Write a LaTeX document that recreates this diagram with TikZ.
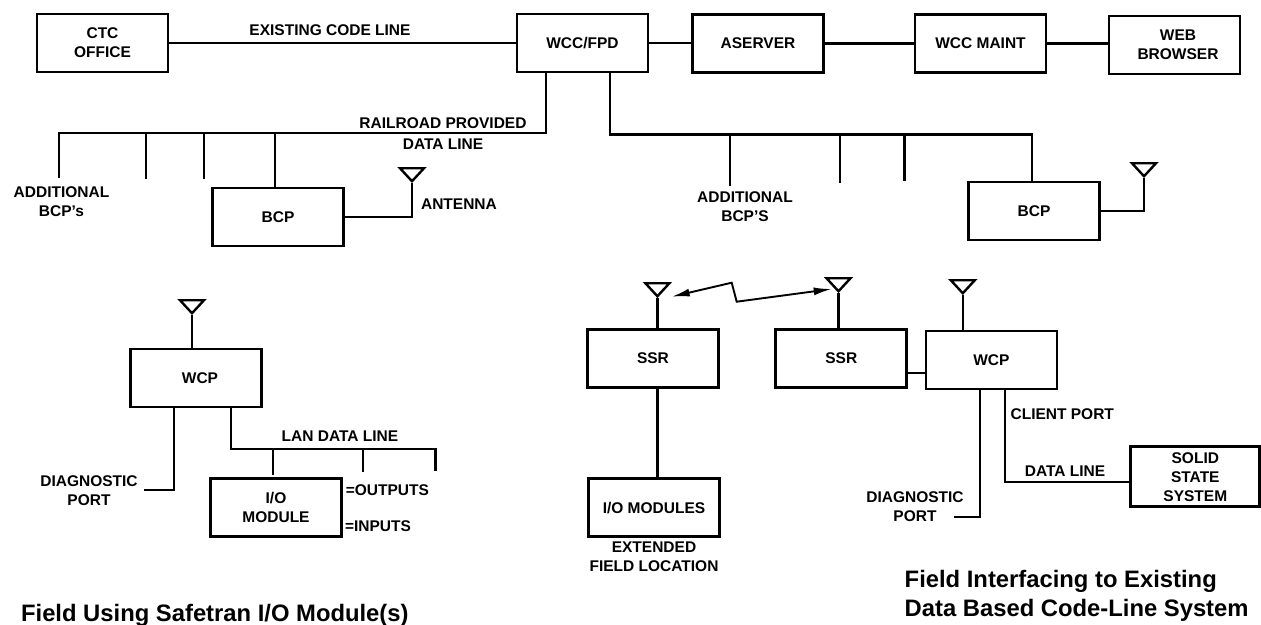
\documentclass[tikz,border=0pt]{standalone}
\usepackage{fontspec}
\setmainfont{Liberation Sans}
\usetikzlibrary{arrows.meta,shapes.geometric}
\tikzset{
  fx/.style={x=1pt, y=-1pt, line width=2.2pt, font=\fontsize{15.5}{19}\selectfont\bfseries},
  c box/.style={draw, line width=2.7pt, align=center, minimum width=131pt, minimum height=58pt, inner sep=0pt},
  c lab/.style={align=center, inner sep=0pt},
  c left/.style={c lab, anchor=west},
  c title/.style={inner sep=0pt, anchor=west, font=\fontsize{23.8}{28}\selectfont\bfseries},
  c ant/.style={draw, line width=2.4pt, isosceles triangle, isosceles triangle apex angle=86, isosceles triangle stretches, shape border rotate=-90, minimum width=24pt, minimum height=13pt, inner sep=0pt, anchor=apex},
  c link/.style={{Latex[length=18pt,width=8pt]}-{Latex[length=18pt,width=8pt]}, line width=1.9pt},
}
\begin{document}
\begin{tikzpicture}[fx]
\useasboundingbox (0,0) rectangle (1261,624);
% top row
\node[c box] (ctc) at (102.5,43) {CTC\\OFFICE};
\node[c box] (wcc) at (582.5,43) {WCC/FPD};
\node[c box] (aserver) at (758,43.5) {ASERVER};
\node[c box] (maint) at (980.5,43.5) {WCC MAINT};
\node[c box] (web) at (1174.5,45) {\hspace*{7pt}WEB\\\hspace*{7pt}BROWSER};
\node[c lab] (lcode) at (330,30) {EXISTING CODE LINE};
\draw (ctc.east) -- (ctc.east-|wcc.west); \draw (wcc.east) -- (wcc.east-|aserver.west);
\draw (aserver.west-|aserver.east) -- (aserver.west-|maint.west); \draw (maint.east) -- (maint.east-|web.west);
% railroad line, left
\node[c box] (bcpl) at (278,217) {BCP};
\node[c ant] (al) at (412,183) {};
\coordinate (rl) at (545.6,133);
\coordinate (l0) at (58.6,178); \coordinate (l1) at (146,179); \coordinate (l2) at (204,179); \coordinate (l3) at (275,133);
\draw (rl|-wcc.south) -- (rl) -- (rl-|l0) -- (l0);
\draw (l1|-rl) -- (l1); \draw (l2|-rl) -- (l2); \draw (l3) -- (l3|-bcpl.north);
\draw (bcpl.east) -- (bcpl.east-|al.apex) -- (al.apex);
\node[c lab] (lrail) at (443,133.5) {RAILROAD PROVIDED\\[1.5pt]DATA LINE};
\node[c lab] (laddl) at (61.5,201.5) {ADDITIONAL\\BCP's};
\node[c left] (lant) at (420,204) {ANTENNA};
% railroad line, right
\node[c box] (bcpr) at (1034,211) {BCP};
\node[c ant] (ar) at (1144,178) {};
\coordinate (rr) at (610,134.5);
\coordinate (r1) at (730,186); \coordinate (r2) at (840,183); \coordinate (r3) at (904.5,181); \coordinate (r4) at (1032,134.5);
\draw (rr|-wcc.south) -- (rr) -- (r4) -- (r4|-bcpr.north);
\draw (r1|-rr) -- (r1); \draw (r2|-rr) -- (r2); \draw (r3|-rr) -- (r3);
\draw (bcpr.east) -- (bcpr.east-|ar.apex) -- (ar.apex);
\node[c lab] (laddr) at (745,206.5) {ADDITIONAL\\BCP'S};
% safetran field
\node[c box] (wcpa) at (196,378) {\hspace*{8pt}WCP};
\node[c box] (iom) at (276,507.5) {I/O\\MODULE};
\node[c ant] (aa) at (192,315) {};
\coordinate (da) at (174,490); \coordinate (dae) at (144,490);
\coordinate (la) at (230.6,449); \coordinate (la1) at (363,472); \coordinate (la2) at (435.5,471); \coordinate (la0) at (273,475);
\draw (aa.apex) -- (aa.apex|-wcpa.north);
\draw (da|-wcpa.south) -- (da) -- (dae);
\draw (la|-wcpa.south) -- (la) -- (la-|la2) -- (la2);
\draw (la0|-la) -- (la0); \draw (la1|-la) -- (la1);
\node[c lab] (ldiaga) at (89,491) {DIAGNOSTIC\\PORT};
\node[c lab] (llan) at (340,435.7) {LAN DATA LINE};
\node[c left] (lout) at (344.7,489.7) {=OUTPUTS};
\node[c left] (lin) at (344,525.7) {=INPUTS};
\node[c title] (ta) at (20,615) {Field Using Safetran I/O Module(s)};
% extended field location
\node[c box] (ssra) at (653,358.3) {SSR};
\node[c box] (iomb) at (654,507.7) {I/O MODULES};
\node[c ant] (ab) at (657.4,298) {};
\draw (ab.apex) -- (ab.apex|-ssra.north);
\draw (ab.apex|-ssra.south) -- (ab.apex|-iomb.north);
\node[c lab] (lext) at (654,557) {EXTENDED\\FIELD LOCATION};
% data line field
\node[c box] (ssrb) at (841.3,358.3) {SSR};
\node[c box] (wcpb) at (991.4,360) {WCP};
\node[c ant] (ac) at (838.5,293) {};
\node[c ant] (ad) at (962.8,295) {};
\draw (ac.apex) -- (ac.apex|-ssrb.north);
\draw (ad.apex) -- (ad.apex|-wcpb.north);
\coordinate (wl) at (925,372.7);
\draw (wl-|ssrb.east) -- (wl-|wcpb.west);
\coordinate (z1) at (731.7,282.7); \coordinate (z2) at (736.7,301.7);
\coordinate (ze1) at (671.7,296.7); \coordinate (ze2) at (831.7,289);
\draw[c link] (ze1) -- (z1) -- (z2) -- (ze2);
\node[c box, minimum width=129pt, minimum height=60pt] (sss) at (1195.3,476.7) {SOLID\\STATE\\SYSTEM};
\coordinate (db) at (980,517); \coordinate (dbe) at (954,517); \coordinate (cp) at (1005,481.7);
\draw (db|-wcpb.south) -- (db) -- (dbe);
\draw (cp|-wcpb.south) -- (cp) -- (cp-|sss.west);
\node[c lab] (ldiagb) at (915,506.2) {DIAGNOSTIC\\PORT};
\node[c left] (lclient) at (1009.5,413.7) {CLIENT PORT};
\node[c lab] (ldata) at (1065,470.7) {DATA LINE};
\node[c title] (tb1) at (903.6,581.7) {Field Interfacing to Existing};
\node[c title] (tb2) at (903.6,610) {Data Based Code-Line System};
\end{tikzpicture}
\end{document}
